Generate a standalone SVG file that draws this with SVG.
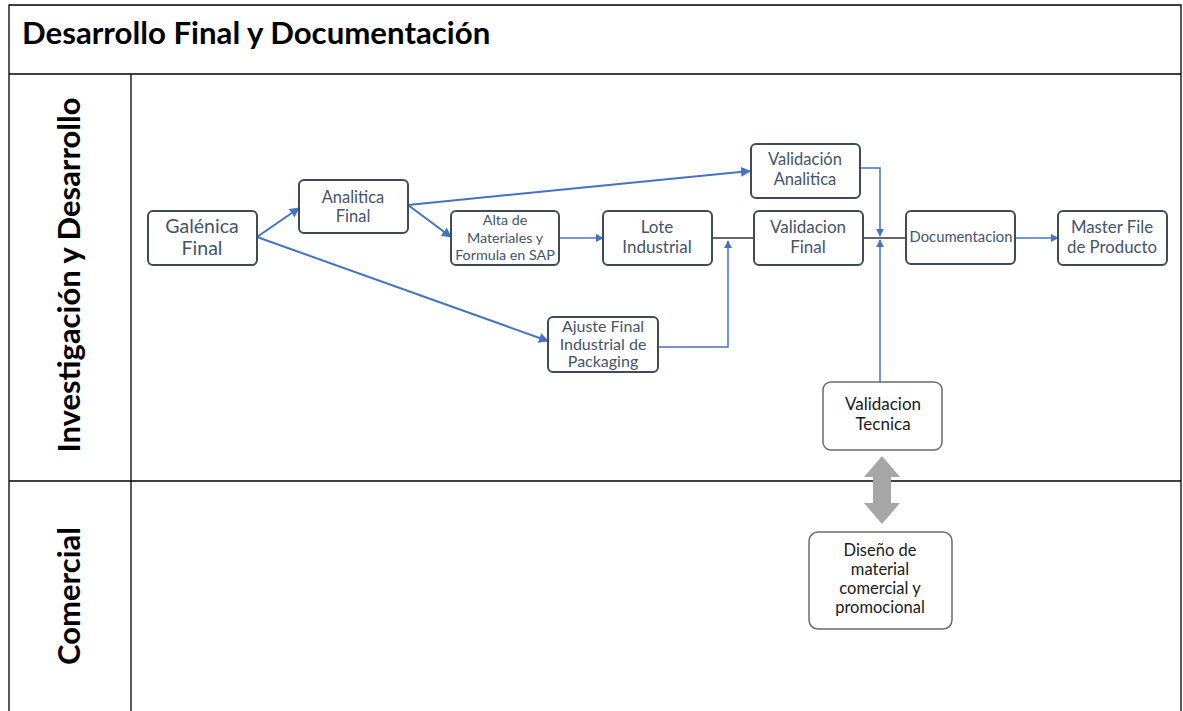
<svg xmlns="http://www.w3.org/2000/svg" width="1183" height="711" viewBox="0 0 1183 711">
<defs>
<style>
.frame{fill:none;stroke:#000;stroke-width:1.3}
.node{fill:#fff;stroke:#3f4b5b;stroke-width:2}
.node2{fill:#fff;stroke:#6b6b6b;stroke-width:1.5}
.t{font-family:Lato,"Open Sans",sans-serif;fill:#44546a;text-anchor:middle}
.t2{font-family:Lato,"Open Sans",sans-serif;fill:#1a1a1a;text-anchor:middle}
.lane{font-family:Lato,"Open Sans",sans-serif;font-weight:bold;fill:#000;text-anchor:middle;font-size:31px}
.c{fill:none;stroke:#4472c4;stroke-width:1.5}
.cb{fill:none;stroke:#4472c4;stroke-width:2}
.k{fill:none;stroke:#333;stroke-width:1.3}
</style>
<marker id="ah" viewBox="0 0 10 10" refX="9" refY="5" markerWidth="8" markerHeight="8" markerUnits="userSpaceOnUse" orient="auto">
<path d="M0,0 L10,5 L0,10 z" fill="#4472c4"/>
</marker>
<marker id="ah2" viewBox="0 0 10 10" refX="9" refY="5" markerWidth="10" markerHeight="10" markerUnits="userSpaceOnUse" orient="auto">
<path d="M0,0 L10,5 L0,10 z" fill="#4472c4"/>
</marker>
</defs>
<rect width="1183" height="711" fill="#fff"/>
<g id="frame">
<path class="frame" d="M9,711 V5 H1181 V711"/>
<line class="frame" x1="9" y1="74" x2="1181" y2="74"/>
<line class="frame" x1="131" y1="74" x2="131" y2="711"/>
<line class="frame" x1="9" y1="481" x2="1181" y2="481"/>
<text x="22" y="44" font-family="Lato,'Open Sans',sans-serif" font-weight="bold" font-size="31.2" fill="#000">Desarrollo Final y Documentación</text>
<text class="lane" transform="translate(80,275) rotate(-90)">Investigación y Desarrollo</text>
<text class="lane" transform="translate(80,596) rotate(-90)">Comercial</text>
</g>
<g id="connectors">
<line class="cb" x1="257" y1="237" x2="299" y2="208" marker-end="url(#ah2)"/>
<line class="cb" x1="257" y1="237" x2="548" y2="341" marker-end="url(#ah2)"/>
<line class="cb" x1="408" y1="205" x2="750" y2="171" marker-end="url(#ah2)"/>
<line class="cb" x1="408" y1="205" x2="451" y2="237" marker-end="url(#ah2)"/>
<line class="c" x1="559" y1="238" x2="603" y2="238" marker-end="url(#ah)"/>
<line class="k" x1="712" y1="238" x2="753" y2="238"/>
<polyline class="c" points="658,347 728,347 728,241" marker-end="url(#ah)"/>
<line class="k" x1="863" y1="238" x2="906" y2="238"/>
<polyline class="c" points="860,168 880,168 880,236" marker-end="url(#ah)"/>
<line class="c" x1="880" y1="382" x2="880" y2="240" marker-end="url(#ah)"/>
<line class="c" x1="1015" y1="238" x2="1058" y2="238" marker-end="url(#ah)"/>
<path id="dbl" d="M882,456 L900,477 L891,477 L891,503 L900,503 L882,524 L864,503 L873,503 L873,477 L864,477 Z" fill="#a6a6a6"/>
</g>
<g id="galenica"><rect class="node" x="148" y="211" width="109" height="54" rx="5"/><text class="t" font-size="19.5"><tspan x="202" y="233">Galénica</tspan><tspan x="202" y="255">Final</tspan></text></g>
<g id="analitica"><rect class="node" x="299" y="180" width="109" height="53" rx="5"/><text class="t" font-size="16.5"><tspan x="353" y="203">Analitica</tspan><tspan x="353" y="222">Final</tspan></text></g>
<g id="valanalitica"><rect class="node" x="751" y="144" width="109" height="54" rx="5"/><text class="t" font-size="16.5"><tspan x="805" y="165">Validación</tspan><tspan x="805" y="185">Analitica</tspan></text></g>
<g id="alta"><rect class="node" x="451" y="211" width="108" height="54" rx="5"/><text class="t" font-size="14.3" fill="#3a4658"><tspan x="505" y="225">Alta de</tspan><tspan x="505" y="243">Materiales y</tspan><tspan x="505" y="260">Formula en SAP</tspan></text></g>
<g id="lote"><rect class="node" x="603" y="211" width="109" height="54" rx="5"/><text class="t" font-size="17"><tspan x="657" y="233">Lote</tspan><tspan x="657" y="253">Industrial</tspan></text></g>
<g id="valfinal"><rect class="node" x="754" y="211" width="109" height="54" rx="5"/><text class="t" font-size="17"><tspan x="808" y="233">Validacion</tspan><tspan x="808" y="253">Final</tspan></text></g>
<g id="documentacion"><rect class="node" x="906" y="211" width="109" height="53" rx="5"/><text class="t" font-size="14.8" x="961" y="242">Documentacion</text></g>
<g id="master"><rect class="node" x="1058" y="211" width="109" height="54" rx="5"/><text class="t" font-size="16.8"><tspan x="1112" y="233">Master File</tspan><tspan x="1112" y="253">de Producto</tspan></text></g>
<g id="ajuste"><rect class="node" x="548" y="317" width="110" height="55" rx="5"/><text class="t" font-size="16"><tspan x="603" y="332">Ajuste Final</tspan><tspan x="603" y="350">Industrial de</tspan><tspan x="603" y="367">Packaging</tspan></text></g>
<g id="valtecnica"><rect class="node2" x="823" y="382" width="119" height="68" rx="8"/><text class="t2" font-size="17"><tspan x="883" y="410">Validacion</tspan><tspan x="883" y="430">Tecnica</tspan></text></g>
<g id="diseno"><rect class="node2" x="809" y="532" width="143" height="97" rx="9"/><text class="t2" font-size="16.5"><tspan x="880" y="556">Diseño de</tspan><tspan x="880" y="575">material</tspan><tspan x="880" y="594">comercial y</tspan><tspan x="880" y="613">promocional</tspan></text></g>
</svg>
